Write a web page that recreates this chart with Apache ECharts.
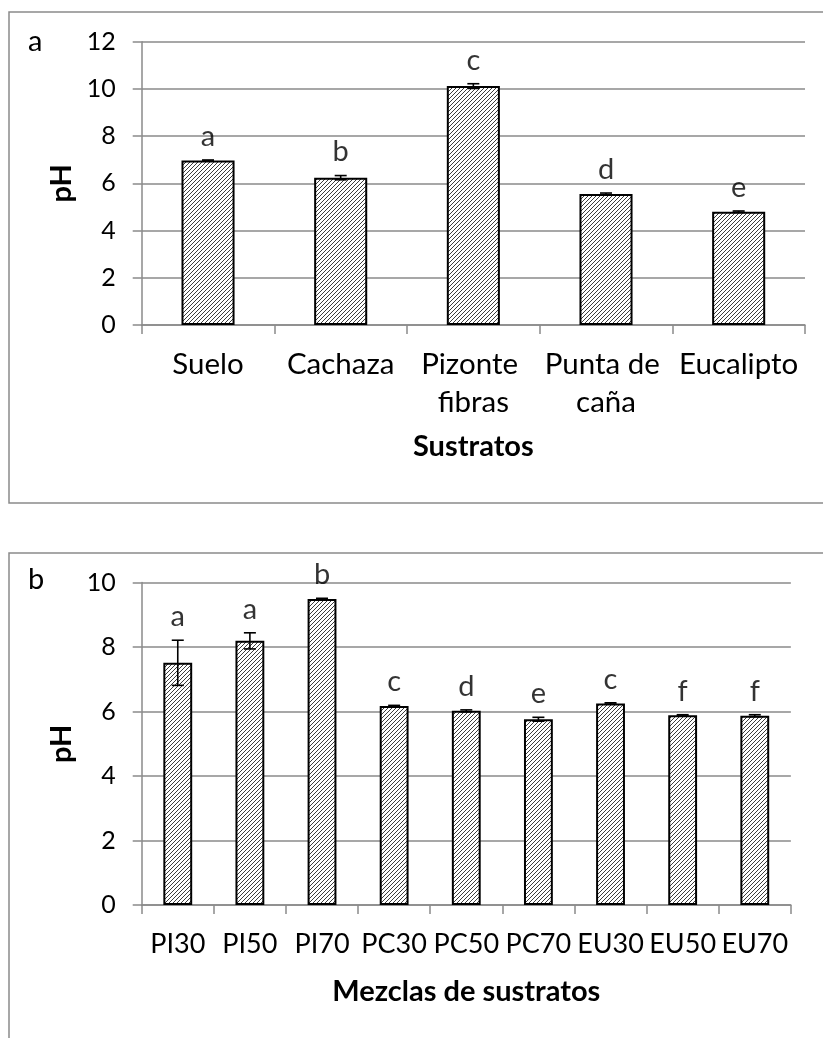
<!DOCTYPE html>
<html>
<head>
<meta charset="utf-8">
<script src="https://cdn.jsdelivr.net/npm/echarts@6/dist/echarts.min.js"></script>
<style>
  html, body { margin: 0; padding: 0; background: #fff; }
  #chart { width: 823px; height: 1038px; }
</style>
</head>
<body>
<div id="chart"></div>
<script>
// Panel a: pure substrates
const categoriesA = ['Suelo', 'Cachaza', 'Pizonte fibras', 'Punta de caña', 'Eucalipto'];
const phA = [6.97, 6.24, 10.12, 5.55, 4.80];
const errA = [0.02, 0.09, 0.10, 0.04, 0.03];
const lettersA = ['a', 'b', 'c', 'd', 'e'];
const yTicksA = [0, 2, 4, 6, 8, 10, 12];

// Panel b: substrate mixtures
const categoriesB = ['PI30', 'PI50', 'PI70', 'PC30', 'PC50', 'PC70', 'EU30', 'EU50', 'EU70'];
const phB = [7.51, 8.19, 9.49, 6.17, 6.02, 5.76, 6.25, 5.88, 5.87];
const errB = [0.70, 0.25, 0.02, 0.02, 0.03, 0.06, 0.02, 0.02, 0.03];
const lettersB = ['a', 'a', 'b', 'c', 'd', 'e', 'c', 'f', 'f'];
const yTicksB = [0, 2, 4, 6, 8, 10];

const FONT = 'Lato';
const GRAY = '#8a8a8a';

// diagonal hatch fill for the bars
function hatchPattern() {
  const s = 4;
  const c = document.createElement('canvas');
  c.width = s; c.height = s;
  const g = c.getContext('2d');
  g.fillStyle = '#fff';
  g.fillRect(0, 0, s, s);
  g.strokeStyle = '#1a1a1a';
  g.lineWidth = 0.85;
  g.beginPath();
  g.moveTo(-1, s + 1); g.lineTo(s + 1, -1);
  g.moveTo(-1, 1); g.lineTo(1, -1);
  g.moveTo(s - 1, s + 1); g.lineTo(s + 1, s - 1);
  g.stroke();
  return c;
}
const hatch = { image: hatchPattern(), repeat: 'repeat' };

function errorRender(params, api) {
  const x = api.value(0);
  const lo = api.coord([x, api.value(1)]);
  const hi = api.coord([x, api.value(2)]);
  const w = 6;
  const st = { stroke: '#000', lineWidth: 1.6 };
  return {
    type: 'group',
    children: [
      { type: 'line', shape: { x1: hi[0], y1: hi[1], x2: lo[0], y2: lo[1] }, style: st },
      { type: 'line', shape: { x1: hi[0] - w, y1: hi[1], x2: hi[0] + w, y2: hi[1] }, style: st },
      { type: 'line', shape: { x1: lo[0] - w, y1: lo[1], x2: lo[0] + w, y2: lo[1] }, style: st }
    ]
  };
}

function xAxisCfg(idx, cats, name, nameGap, labelSize) {
  return {
    type: 'category', gridIndex: idx, data: cats,
    axisLine: { show: true, lineStyle: { color: GRAY, width: 1.5 } },
    axisTick: { show: true, length: 9, lineStyle: { color: GRAY, width: 1.5 } },
    axisLabel: {
      color: '#000', fontFamily: FONT, fontSize: labelSize, lineHeight: 38, margin: 20,
      width: 132, overflow: 'break', interval: 0
    },
    name: name, nameLocation: 'middle', nameGap: nameGap,
    nameTextStyle: { color: '#000', fontFamily: FONT, fontSize: 29, fontWeight: 'bold' }
  };
}

function yAxisCfg(idx, ticks) {
  return {
    type: 'value', gridIndex: idx,
    min: ticks[0], max: ticks[ticks.length - 1], interval: ticks[1] - ticks[0],
    axisLine: { show: true, lineStyle: { color: GRAY, width: 1.5 } },
    axisTick: { show: true, length: 9, lineStyle: { color: GRAY, width: 1.5 } },
    splitLine: { show: true, lineStyle: { color: GRAY, width: 1.5 } },
    axisLabel: { color: '#000', fontFamily: FONT, fontSize: 25, margin: 26 },
    name: 'pH', nameLocation: 'middle', nameGap: 60, nameRotate: 90,
    nameTextStyle: { color: '#000', fontFamily: FONT, fontSize: 29, fontWeight: 'bold' }
  };
}

function panelSeries(idx, values, errs, letters) {
  return [
    {
      type: 'bar', xAxisIndex: idx, yAxisIndex: idx,
      data: values, barCategoryGap: '60%',
      itemStyle: { color: hatch, borderColor: '#000', borderWidth: 2 },
      silent: true
    },
    {
      type: 'custom', xAxisIndex: idx, yAxisIndex: idx,
      renderItem: errorRender,
      data: values.map((v, i) => [i, v - errs[i], v + errs[i]]),
      z: 5, silent: true
    },
    {
      type: 'scatter', xAxisIndex: idx, yAxisIndex: idx,
      symbolSize: 0,
      data: values.map((v, i) => [i, v + errs[i]]),
      label: {
        show: true, position: 'top', distance: 9,
        formatter: p => letters[p.dataIndex],
        color: '#000', fontFamily: FONT, fontSize: 29
      },
      z: 6, silent: true
    }
  ];
}

const chart = echarts.init(document.getElementById('chart'), null, { renderer: 'canvas' });
chart.setOption({
  animation: false,
  backgroundColor: '#fff',
  grid: [
    { left: 141.7, top: 41.7, width: 663.3, height: 283.3 },
    { left: 141.7, top: 582.5, width: 663.3, height: 322.5 }
  ],
  xAxis: [
    xAxisCfg(0, categoriesA, 'Sustratos', 107, 29.5),
    xAxisCfg(1, categoriesB, 'Mezclas de sustratos', 72, 27)
  ],
  yAxis: [yAxisCfg(0, yTicksA), yAxisCfg(1, yTicksB)],
  series: [
    ...panelSeries(0, phA, errA, lettersA),
    ...panelSeries(1, phB, errB, lettersB)
  ],
  graphic: [
    { type: 'rect', shape: { x: 9, y: 12, width: 830, height: 491 },
      style: { fill: 'none', stroke: GRAY, lineWidth: 1.5 }, silent: true },
    { type: 'rect', shape: { x: 9, y: 553, width: 830, height: 500 },
      style: { fill: 'none', stroke: GRAY, lineWidth: 1.5 }, silent: true },
    { type: 'text', left: 28, top: 27,
      style: { text: 'a', fill: '#000', font: '29px Lato' } },
    { type: 'text', left: 28, top: 565,
      style: { text: 'b', fill: '#000', font: '29px Lato' } }
  ]
});
</script>
</body>
</html>
